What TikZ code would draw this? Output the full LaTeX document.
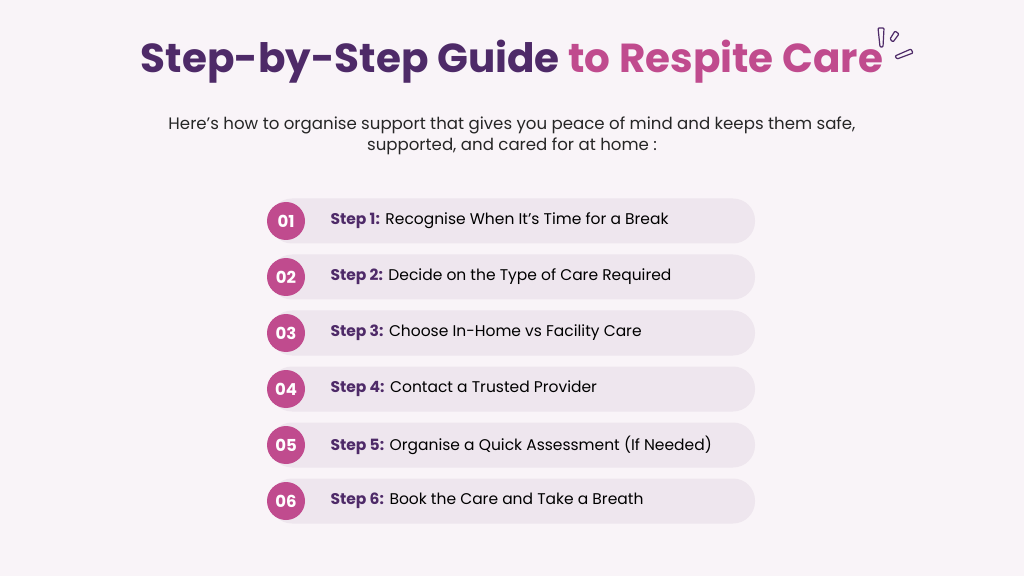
\documentclass[tikz,border=0pt]{standalone}
\usepackage{fontspec}
\setmainfont{Poppins}
\usetikzlibrary{positioning}
\definecolor{bgpink}{HTML}{F9F4F8}
\definecolor{pillgray}{HTML}{EEE6EE}
\definecolor{deeppurple}{HTML}{4E2A68}
\definecolor{rosepink}{HTML}{C04B8E}
\tikzset{
x=1pt, y=1pt,
pill/.style={fill=pillgray, rounded corners=22pt, minimum width=485pt, minimum height=45pt}, % the row band
badge/.style={circle, fill=rosepink, minimum size=38pt, inner sep=0pt, text=white, font=\fontsize{16.5}{16}\selectfont\bfseries},
steptext/.style={anchor=west, font=\fontsize{15.5}{18}\selectfont},
}
\begin{document}
\begin{tikzpicture}
    \fill[bgpink] (0,0) rectangle (1024,576);
    \useasboundingbox (0,0) rectangle (1024,576);
    % title and subtitle
    \node (title) at (512,514) {\fontsize{40.5}{42}\selectfont\bfseries\color{deeppurple}Step-by-Step Guide \color{rosepink}to Respite Care};
    \node[align=center, font=\fontsize{16.6}{21}\selectfont, text=black!85] (sub) at (512,440)
        {Here’s how to organise support that gives you peace of mind and keeps them safe,\\supported, and cared for at home :};
    % sparkle
    \draw[deeppurple, line width=1.2pt, rounded corners=1pt]
        (878,548) -- (884,548) -- (883,529) -- (880,529) -- cycle
        (890,537) -- (895,545) -- (899,542) -- (893,534) -- cycle
        (895,520) -- (911,527) -- (913,523) -- (897,517) -- cycle;
    % steps
    \foreach \n/\txt [count=\i] in {
        01/{\textbf{\color{deeppurple}Step 1:} Recognise When It’s Time for a Break},
        02/{\textbf{\color{deeppurple}Step 2:} Decide on the Type of Care Required},
        03/{\textbf{\color{deeppurple}Step 3:} Choose In-Home vs Facility Care},
        04/{\textbf{\color{deeppurple}Step 4:} Contact a Trusted Provider},
        05/{\textbf{\color{deeppurple}Step 5:} Organise a Quick Assessment (If Needed)},
        06/{\textbf{\color{deeppurple}Step 6:} Book the Care and Take a Breath}} {
        \node[pill] (row\i) at (512.5,{576-221-56*(\i-1)}) {};
        \node[badge] (num\i) at (286,{576-221-56*(\i-1)}) {\n};
        \node[steptext] (label\i) at (327,{576-221-56*(\i-1)}) {\txt};
    }
\end{tikzpicture}
\end{document}
